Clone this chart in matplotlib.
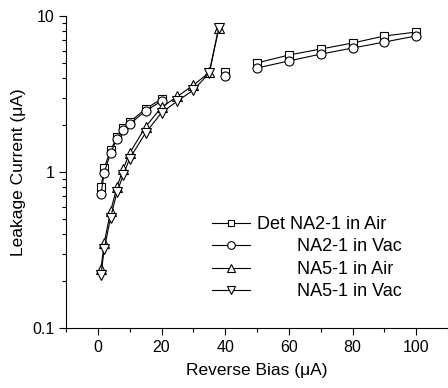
import numpy as np
import matplotlib
matplotlib.use("Agg")
import matplotlib.pyplot as plt
from matplotlib.ticker import LogLocator, FixedLocator, NullFormatter

# global constants
OUT_PNG_NAME: str = "out.png"
plt.rcParams["font.family"] = ["Liberation Sans", "DejaVu Sans"]

# reverse bias points for the NA2-1 detector (nan breaks the line)
na2_bias = [1, 2, 4, 6, 8, 10, 15, 20, 30, 40, 45, 50, 60, 70, 80, 90, 100]
na2_air = [0.80, 1.06, 1.38, 1.67, 1.91, 2.09, 2.54, 2.94, np.nan, 4.35, np.nan,
           5.00, 5.62, 6.14, 6.71, 7.44, 7.89]
na2_vac = [0.72, 0.99, 1.32, 1.63, 1.86, 2.03, 2.46, 2.85, np.nan, 4.12, np.nan,
           4.64, 5.15, 5.70, 6.23, 6.81, 7.45]

# reverse bias points for the NA5-1 detector
na5_bias = [1, 2, 4, 6, 8, 10, 15, 20, 25, 30, 35, 38]
na5_air = [0.24, 0.35, 0.56, 0.80, 1.05, 1.32, 1.95, 2.60, 3.05, 3.60, 4.35, 8.4]
na5_vac = [0.22, 0.32, 0.51, 0.74, 0.96, 1.22, 1.78, 2.40, 2.85, 3.35, 4.30, 8.4]

labels = ["Det NA2-1 in Air", "        NA2-1 in Vac",
          "        NA5-1 in Air", "        NA5-1 in Vac"]


def main():
    # create the figure and place the axes by hand
    fig = plt.figure(figsize=(4.48, 3.88), dpi=100)
    axes = fig.add_axes([66 / 448, 60 / 388, 382 / 448, 312 / 388])

    style = dict(color="black", lw=0.8, mfc="white", mec="black", mew=0.8)
    axes.plot(na2_bias, na2_air, marker="s", ms=5.5, label=labels[0], **style)
    axes.plot(na2_bias, na2_vac, marker="o", ms=6.5, label=labels[1], **style)
    axes.plot(na5_bias, na5_air, marker="^", ms=7.5, label=labels[2], **style)
    axes.plot(na5_bias, na5_vac, marker="v", ms=7.5, label=labels[3], **style)

    # log y axis from 0.1 to 10
    axes.set_yscale("log")
    axes.set_ylim(0.1, 10)
    axes.set_xlim(-10, 110)

    axes.yaxis.set_major_locator(FixedLocator([0.1, 1, 10]))
    axes.set_yticklabels(["0.1", "1", "10"])
    axes.yaxis.set_minor_locator(LogLocator(base=10, subs=np.arange(2, 10)))
    axes.yaxis.set_minor_formatter(NullFormatter())

    axes.set_xticks([0, 20, 40, 60, 80, 100])
    axes.set_xticks([-10, 10, 30, 50, 70, 90, 110], minor=True)

    # only left and bottom spines
    axes.spines["top"].set_visible(False)
    axes.spines["right"].set_visible(False)
    for side in ("left", "bottom"):
        axes.spines[side].set_linewidth(0.8)

    axes.tick_params(which="major", direction="out", length=5, width=0.8,
                     labelsize=11.5)
    axes.tick_params(which="minor", direction="out", length=3, width=0.8)

    axes.set_xlabel("Reverse Bias (\u03bcA)", fontsize=12.5, labelpad=6)
    axes.set_ylabel("Leakage Current (\u03bcA)", fontsize=12.5, labelpad=4)

    # legend without frame
    axes.legend(loc="upper left", bbox_to_anchor=(212 / 448, 1 - 216 / 388),
                bbox_transform=fig.transFigure, frameon=False, fontsize=13,
                handlelength=2.1, handletextpad=0.4, labelspacing=0.3,
                markerscale=0.85, borderpad=0, borderaxespad=0)

    fig.savefig(OUT_PNG_NAME, dpi=100)


if __name__ == "__main__":
    main()
